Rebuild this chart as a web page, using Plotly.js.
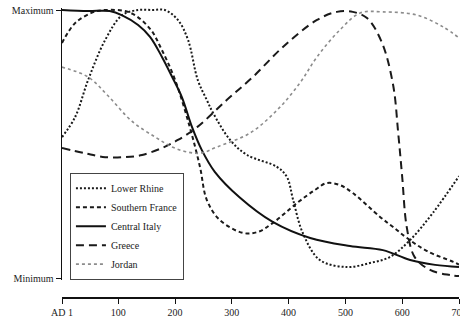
<!DOCTYPE html>
<html>
<head>
<meta charset="utf-8">
<script src="https://cdn.plot.ly/plotly-3.0.1.min.js"></script>
<style>html,body{margin:0;padding:0;background:#fff;overflow:hidden;}#chart{width:460px;height:320px;}</style>
</head>
<body>
<div id="chart"></div>
<script>
// Relative level (0 = minimum, 1 = maximum) by year AD
const seriesNames = ["Lower Rhine", "Southern France", "Central Italy", "Greece", "Jordan"];

const yearsLowerRhine = [1, 24, 47, 77, 107, 135, 160, 182, 205, 223, 240, 256, 267, 297, 327, 380, 397, 408, 425, 455, 503, 543, 578, 614, 654, 700];
const lowerRhine      = [0.526, 0.60, 0.739, 0.888, 0.981, 1.0, 1.0, 1.0, 0.963, 0.888, 0.739, 0.664, 0.616, 0.515, 0.459, 0.414, 0.377, 0.291, 0.168, 0.067, 0.041, 0.056, 0.078, 0.142, 0.243, 0.38];

const yearsSouthernFrance = [1, 24, 54, 77, 121, 156, 177, 200, 226, 244, 256, 279, 320, 346, 372, 415, 446, 467, 490, 513, 561, 584, 608, 644, 690, 700];
const southernFrance      = [0.877, 0.951, 0.99, 1.0, 0.99, 0.93, 0.85, 0.74, 0.563, 0.414, 0.291, 0.216, 0.168, 0.172, 0.205, 0.28, 0.328, 0.354, 0.347, 0.317, 0.228, 0.19, 0.15, 0.10, 0.06, 0.05];

const yearsCentralItaly = [1, 47, 85, 107, 135, 156, 177, 195, 212, 230, 247, 270, 314, 372, 438, 508, 566, 614, 658, 700];
const centralItaly      = [1.0, 0.996, 0.996, 0.98, 0.944, 0.90, 0.825, 0.75, 0.675, 0.563, 0.478, 0.396, 0.30, 0.209, 0.149, 0.119, 0.104, 0.067, 0.049, 0.041];

const yearsGreece = [1, 41, 77, 112, 142, 177, 205, 239, 291, 337, 390, 450, 485, 513, 538, 564, 584, 593, 600, 608, 622, 649, 684, 700];
const greece      = [0.485, 0.466, 0.451, 0.451, 0.459, 0.485, 0.515, 0.563, 0.664, 0.75, 0.862, 0.963, 0.993, 0.993, 0.97, 0.88, 0.72, 0.54, 0.377, 0.19, 0.078, 0.03, 0.011, 0.007];

const yearsJordan = [1, 47, 82, 124, 165, 195, 222, 245, 274, 332, 380, 420, 450, 490, 526, 566, 626, 672, 700];
const jordan      = [0.787, 0.75, 0.68, 0.585, 0.526, 0.489, 0.47, 0.466, 0.489, 0.541, 0.627, 0.728, 0.825, 0.925, 0.989, 0.993, 0.981, 0.937, 0.896];

const xTickVals   = [1, 100, 200, 300, 400, 500, 600, 700];
const xTickLabels = ["AD 1", "100", "200", "300", "400", "500", "600", "700"];
const yTickVals   = [0, 1];
const yTickLabels = ["Minimum", "Maximum"];

const serif = "Liberation Serif, Times New Roman, serif";

const traces = [
  {x: yearsLowerRhine, y: lowerRhine, name: seriesNames[0],
   line: {color: "#1a1a1a", width: 2, dash: "2px,2px", shape: "spline", smoothing: 1}},
  {x: yearsSouthernFrance, y: southernFrance, name: seriesNames[1],
   line: {color: "#1a1a1a", width: 2, dash: "4px,3px", shape: "spline", smoothing: 1}},
  {x: yearsCentralItaly, y: centralItaly, name: seriesNames[2],
   line: {color: "#111", width: 2, dash: "solid", shape: "spline", smoothing: 1}},
  {x: yearsGreece, y: greece, name: seriesNames[3],
   line: {color: "#1a1a1a", width: 2, dash: "8px,5px", shape: "spline", smoothing: 1}},
  {x: yearsJordan, y: jordan, name: seriesNames[4],
   line: {color: "#8c8c8c", width: 1.6, dash: "dot", shape: "spline", smoothing: 1}}
].map(t => Object.assign({type: "scatter", mode: "lines", hoverinfo: "skip"}, t));

const layout = {
  width: 460, height: 320,
  margin: {l: 62, r: 1, t: 8, b: 23},
  paper_bgcolor: "#fff", plot_bgcolor: "#fff",
  showlegend: true,
  legend: {
    x: 0.02, y: 0.06, xanchor: "left", yanchor: "bottom",
    bgcolor: "#fff", bordercolor: "#444", borderwidth: 1,
    font: {family: serif, size: 10, color: "#222"},
    itemwidth: 30, tracegroupgap: 0
  },
  xaxis: {
    range: [1, 700], anchor: "free", position: 0,
    tickvals: xTickVals, ticktext: xTickLabels,
    ticklabeloverflow: "allow",
    showline: true, linecolor: "#111", linewidth: 1.5,
    ticks: "outside", ticklen: 5, tickcolor: "#111",
    showgrid: false, zeroline: false,
    tickfont: {family: serif, size: 10, color: "#222"}
  },
  yaxis: {
    range: [-0.0075, 1.0075], domain: [0.0588, 1],
    tickvals: yTickVals, ticktext: yTickLabels,
    showline: true, linecolor: "#111", linewidth: 1.5,
    ticks: "outside", ticklen: 5, tickcolor: "#111",
    showgrid: false, zeroline: false,
    tickfont: {family: serif, size: 10, color: "#222"}
  }
};

Plotly.newPlot("chart", traces, layout, {staticPlot: true, displayModeBar: false});
</script>
</body>
</html>
